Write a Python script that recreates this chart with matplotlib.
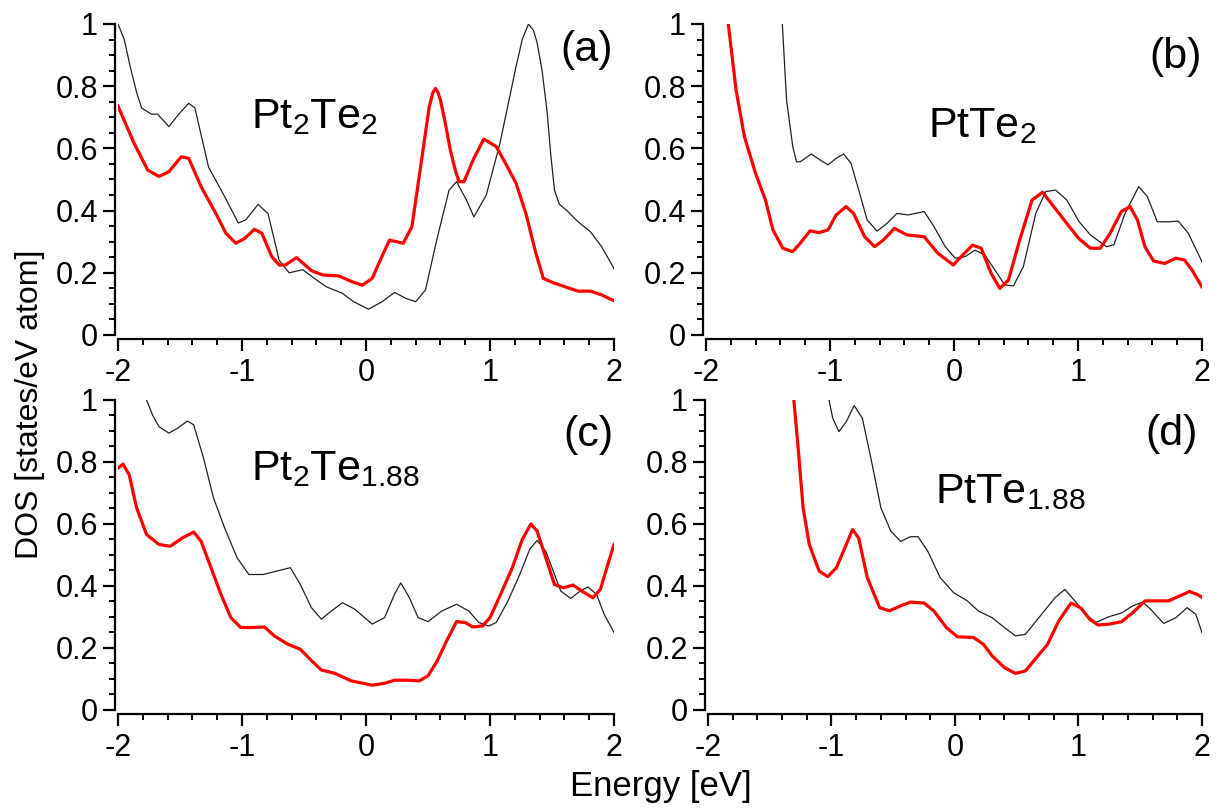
import matplotlib
matplotlib.use('Agg')
import matplotlib.pyplot as plt
from matplotlib.ticker import MultipleLocator, FuncFormatter

plt.rcParams['font.family'] = ['Liberation Sans', 'DejaVu Sans']
plt.rcParams['mathtext.fontset'] = 'custom'
plt.rcParams['mathtext.rm'] = 'Liberation Sans'
plt.rcParams['mathtext.it'] = 'Liberation Sans'
plt.rcParams['axes.unicode_minus'] = False

# ---- (a) Pt2Te2 ----
a_black_x = [-2.0, -1.95, -1.9, -1.85, -1.81, -1.73, -1.68, -1.59, -1.51, -1.43, -1.38, -1.27, -1.14, -1.03, -0.97,
             -0.87, -0.79, -0.70, -0.62, -0.51, -0.41, -0.32, -0.19, -0.10, 0.02, 0.13, 0.23, 0.32,
             0.40, 0.48, 0.57, 0.67, 0.73, 0.81, 0.87, 0.97, 1.08, 1.21, 1.26, 1.31, 1.35, 1.38, 1.42, 1.46,
             1.49, 1.52, 1.56, 1.62, 1.71, 1.81, 1.90, 2.0]
a_black_y = [1.0, 0.95, 0.86, 0.78, 0.73, 0.71, 0.71, 0.67, 0.71, 0.745, 0.73, 0.54, 0.445, 0.36, 0.37,
             0.42, 0.39, 0.24, 0.20, 0.21, 0.18, 0.155, 0.134, 0.107, 0.083, 0.107, 0.137, 0.118,
             0.107, 0.145, 0.305, 0.466, 0.493, 0.434, 0.38, 0.45, 0.616, 0.863, 0.95, 1.0, 0.98, 0.94, 0.85, 0.72,
             0.58, 0.466, 0.42, 0.40, 0.364, 0.332, 0.284, 0.214]
a_red_x = [-2.0, -1.87, -1.76, -1.67, -1.59, -1.49, -1.43, -1.33, -1.21, -1.13, -1.05, -0.98, -0.90,
           -0.84, -0.76, -0.70, -0.65, -0.56, -0.44, -0.35, -0.22, -0.11, -0.03, 0.05, 0.14, 0.19,
           0.30, 0.37, 0.44, 0.51, 0.54, 0.56, 0.58, 0.60, 0.64, 0.68, 0.72, 0.75, 0.79, 0.87, 0.95, 1.05, 1.14, 1.21,
           1.29, 1.37, 1.43, 1.51, 1.62, 1.71, 1.81, 1.90, 2.0]
a_red_y = [0.736, 0.616, 0.53, 0.51, 0.525, 0.573, 0.568, 0.477, 0.39, 0.327, 0.295, 0.31, 0.34,
           0.327, 0.252, 0.225, 0.225, 0.249, 0.207, 0.193, 0.19, 0.171, 0.16, 0.182, 0.263, 0.305,
           0.295, 0.348, 0.54, 0.734, 0.78, 0.793, 0.78, 0.756, 0.68, 0.595, 0.53, 0.493, 0.493, 0.568, 0.63, 0.606, 0.541, 0.488,
           0.39, 0.263, 0.182, 0.168, 0.153, 0.141, 0.141, 0.129, 0.11]

# ---- (b) PtTe2 ----
b_black_x = [-1.384, -1.35, -1.30, -1.27, -1.24, -1.15, -1.08, -1.015, -0.95, -0.89, -0.83, -0.76,
             -0.70, -0.62, -0.54, -0.46, -0.37, -0.24, -0.16, -0.07, 0.01, 0.09, 0.17, 0.25, 0.33,
             0.41, 0.48, 0.56, 0.66, 0.74, 0.82, 0.91, 1.01, 1.10, 1.23, 1.29, 1.38, 1.49, 1.56,
             1.64, 1.73, 1.81, 1.89, 2.0]
b_black_y = [1.0, 0.756, 0.606, 0.557, 0.557, 0.582, 0.563, 0.547, 0.568, 0.582, 0.552, 0.455,
             0.37, 0.334, 0.359, 0.391, 0.386, 0.397, 0.348, 0.284, 0.247, 0.252, 0.273, 0.257, 0.209,
             0.161, 0.158, 0.22, 0.391, 0.461, 0.466, 0.434, 0.364, 0.322, 0.284, 0.29, 0.391, 0.477, 0.445,
             0.364, 0.364, 0.366, 0.327, 0.236]
b_red_x = [-1.82, -1.757, -1.69, -1.60, -1.52, -1.46, -1.38, -1.30, -1.24, -1.16, -1.09, -1.015, -0.95,
           -0.87, -0.81, -0.72, -0.64, -0.57, -0.48, -0.38, -0.24, -0.13, -0.005, 0.07, 0.15, 0.22,
           0.30, 0.37, 0.44, 0.53, 0.63, 0.715, 0.785, 0.91, 1.005, 1.10, 1.18, 1.26, 1.35, 1.42,
           1.48, 1.54, 1.61, 1.70, 1.79, 1.86, 1.92, 2.0]
b_red_y = [1.0, 0.788, 0.638, 0.52, 0.434, 0.338, 0.279, 0.268, 0.295, 0.335, 0.329, 0.338, 0.386,
           0.413, 0.391, 0.316, 0.284, 0.305, 0.343, 0.322, 0.316, 0.263, 0.225, 0.257, 0.289, 0.279,
           0.198, 0.15, 0.177, 0.305, 0.434, 0.459, 0.423, 0.359, 0.311, 0.279, 0.279, 0.327, 0.397, 0.413,
           0.37, 0.284, 0.238, 0.23, 0.247, 0.241, 0.209, 0.155]

# ---- (c) Pt2Te1.88 ----
c_black_x = [-1.77, -1.72, -1.67, -1.59, -1.52, -1.44, -1.39, -1.31, -1.23, -1.14, -1.04, -0.945,
             -0.83, -0.72, -0.61, -0.53, -0.44, -0.36, -0.28, -0.19, -0.09, 0.05, 0.15, 0.23, 0.28,
             0.35, 0.42, 0.50, 0.61, 0.73, 0.83, 0.91, 0.99, 1.05, 1.145, 1.24, 1.32, 1.38, 1.45,
             1.51, 1.57, 1.65, 1.73, 1.79, 1.86, 1.92, 2.0]
c_black_y = [1.0, 0.95, 0.914, 0.893, 0.909, 0.932, 0.92, 0.812, 0.684, 0.587, 0.491, 0.437,
             0.437, 0.448, 0.459, 0.405, 0.33, 0.293, 0.319, 0.346, 0.325, 0.277, 0.298, 0.373, 0.41,
             0.362, 0.298, 0.285, 0.319, 0.341, 0.319, 0.282, 0.271, 0.282, 0.352, 0.437, 0.518, 0.547, 0.512,
             0.448, 0.384, 0.36, 0.384, 0.397, 0.373, 0.309, 0.25]
c_red_x = [-2.0, -1.96, -1.91, -1.85, -1.77, -1.67, -1.58, -1.48, -1.39, -1.33, -1.25, -1.17, -1.09,
           -1.01, -0.91, -0.82, -0.74, -0.63, -0.53, -0.44, -0.36, -0.25, -0.12, 0.05, 0.15, 0.23,
           0.32, 0.43, 0.50, 0.575, 0.65, 0.73, 0.80, 0.86, 0.94, 1.00, 1.08, 1.18, 1.26, 1.33,
           1.38, 1.45, 1.52, 1.59, 1.67, 1.75, 1.83, 1.89, 1.95, 2.0]
c_red_y = [0.78, 0.793, 0.759, 0.652, 0.566, 0.534, 0.528, 0.555, 0.574, 0.544, 0.459, 0.373, 0.298,
           0.266, 0.266, 0.268, 0.239, 0.212, 0.196, 0.159, 0.129, 0.118, 0.094, 0.08, 0.086, 0.096,
           0.096, 0.094, 0.11, 0.159, 0.223, 0.285, 0.282, 0.268, 0.271, 0.298, 0.368, 0.459, 0.55, 0.60,
           0.577, 0.491, 0.405, 0.394, 0.403, 0.381, 0.362, 0.389, 0.469, 0.534]

# ---- (d) PtTe1.88 ----
d_black_x = [-1.02, -0.99, -0.94, -0.88, -0.816, -0.75, -0.67, -0.60, -0.52, -0.44, -0.36, -0.30,
             -0.22, -0.12, -0.01, 0.10, 0.19, 0.30, 0.40, 0.49, 0.57, 0.68, 0.81, 0.89, 0.97, 1.06,
             1.14, 1.24, 1.35, 1.44, 1.52, 1.58, 1.69, 1.79, 1.88, 1.95, 2.0]
d_black_y = [1.0, 0.941, 0.898, 0.93, 0.982, 0.941, 0.791, 0.652, 0.577, 0.544, 0.559, 0.559,
             0.512, 0.427, 0.378, 0.352, 0.319, 0.298, 0.266, 0.239, 0.244, 0.298, 0.362, 0.389, 0.352, 0.309,
             0.282, 0.30, 0.313, 0.336, 0.348, 0.327, 0.279, 0.298, 0.33, 0.309, 0.25]
d_red_x = [-1.305, -1.27, -1.23, -1.18, -1.10, -1.03, -0.96, -0.88, -0.83, -0.78, -0.71, -0.61, -0.53,
           -0.44, -0.36, -0.25, -0.17, -0.07, 0.02, 0.15, 0.23, 0.30, 0.40, 0.49, 0.57, 0.65, 0.75,
           0.84, 0.94, 1.02, 1.09, 1.16, 1.25, 1.35, 1.44, 1.54, 1.63, 1.73, 1.82, 1.90, 1.96, 2.0]
d_red_y = [1.0, 0.845, 0.652, 0.534, 0.448, 0.43, 0.459, 0.534, 0.582, 0.555, 0.427, 0.33, 0.32,
           0.336, 0.348, 0.345, 0.319, 0.266, 0.236, 0.234, 0.212, 0.175, 0.137, 0.118, 0.126, 0.164, 0.212,
           0.287, 0.345, 0.329, 0.293, 0.274, 0.277, 0.285, 0.314, 0.352, 0.352, 0.352, 0.368, 0.382, 0.373, 0.364]

formulas = [r'Pt$_2$Te$_2$', r'PtTe$_2$', r'Pt$_2$Te$_{1.88}$', r'PtTe$_{1.88}$']
panel_tags = ['(a)', '(b)', '(c)', '(d)']

panels = [
    (a_black_x, a_black_y, a_red_x, a_red_y),
    (b_black_x, b_black_y, b_red_x, b_red_y),
    (c_black_x, c_black_y, c_red_x, c_red_y),
    (d_black_x, d_black_y, d_red_x, d_red_y),
]

# axes rectangles (figure fraction) and text spots in data coords
rects = [[0.0969, 0.5854, 0.4072, 0.3849],
         [0.5796, 0.5854, 0.4072, 0.3849],
         [0.0969, 0.1213, 0.4072, 0.3837],
         [0.5813, 0.1213, 0.4055, 0.3837]]
formula_xy = [(-0.93, 0.666), (-0.21, 0.637), (-0.93, 0.742), (-0.16, 0.668)]
tag_xy = [(1.99, 0.916), (2.0, 0.894), (2.0, 0.887), (1.97, 0.89)]

fig = plt.figure(figsize=(12.18, 8.08), dpi=100)

for i in range(4):
    bx, by, rx, ry = panels[i]
    ax = fig.add_axes(rects[i])
    ax.plot(bx, by, color='#222222', lw=0.9)
    ax.plot(rx, ry, color='#ff0000', lw=2.3)
    ax.set_xlim(-2, 2)
    ax.set_ylim(0, 1)

    for s in ['top', 'right']:
        ax.spines[s].set_visible(False)
    ax.spines['left'].set_position(('outward', 2))
    ax.spines['bottom'].set_position(('outward', 3))
    ax.spines['left'].set_linewidth(1.6)
    ax.spines['bottom'].set_linewidth(1.6)

    ax.xaxis.set_major_locator(MultipleLocator(1))
    ax.xaxis.set_minor_locator(MultipleLocator(0.2))
    ax.yaxis.set_major_locator(MultipleLocator(0.2))
    ax.yaxis.set_minor_locator(MultipleLocator(0.05))
    ax.yaxis.set_major_formatter(FuncFormatter(lambda v, p: '%g' % round(v, 2)))
    ax.xaxis.set_major_formatter(FuncFormatter(lambda v, p: '%g' % round(v, 2)))
    ax.tick_params(which='major', direction='out', length=8.5, width=1.6, labelsize=22)
    ax.tick_params(which='minor', direction='out', length=4.5, width=1.4)
    ax.tick_params(axis='y', which='major', pad=4)
    ax.tick_params(axis='x', which='major', pad=5)

    fx, fy = formula_xy[i]
    ax.text(fx, fy, formulas[i], fontsize=31, ha='left', va='baseline')
    tx, ty = tag_xy[i]
    ax.text(tx, ty, panel_tags[i], fontsize=31, ha='right', va='center')

fig.text(0.025, 0.50, 'DOS [states/eV atom]', rotation=90, fontsize=23, ha='center', va='center')
fig.text(0.543, 0.026, 'Energy [eV]', fontsize=25, ha='center', va='center')

fig.savefig('out.png', dpi=100)
